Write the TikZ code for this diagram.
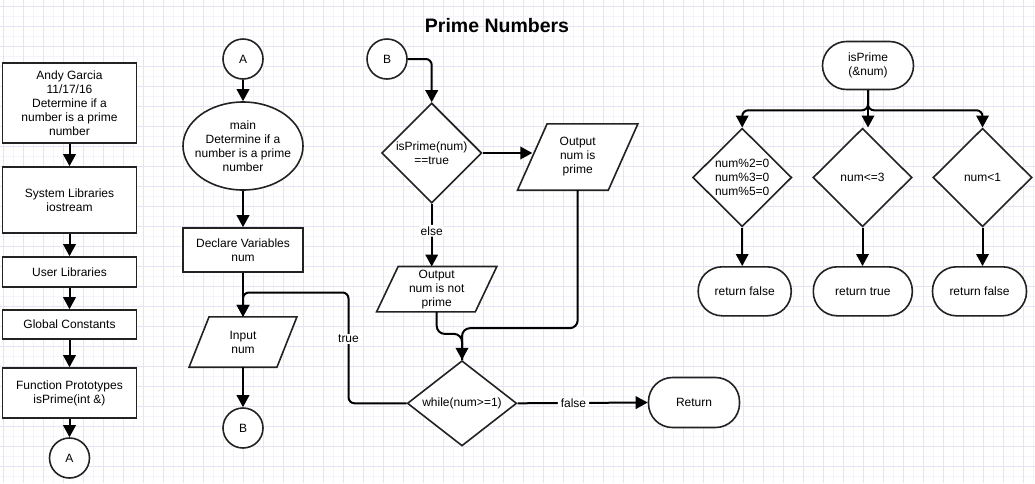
\documentclass[tikz,border=0pt]{standalone}
\usepackage{fontspec}
\setmainfont{Liberation Sans}
\usetikzlibrary{arrows.meta,shapes.geometric}

\definecolor{gridlight}{RGB}{245,244,252}
\definecolor{griddark}{RGB}{230,227,247}
\definecolor{ink}{RGB}{34,34,34}

\pgfdeclarelayer{grid}
\pgfdeclarelayer{back}
\pgfsetlayers{grid,back,main}

% parallelogram (input/output) drawn around a named rectangular node
\newcommand\slantbox[2]{%
  \begin{pgfonlayer}{back}
    \draw[shapeline, fill=white]
      ([xshift=#2pt]#1.north west) -- ([xshift=#2pt]#1.north east)
      -- ([xshift=-#2pt]#1.south east) -- ([xshift=-#2pt]#1.south west) -- cycle;
  \end{pgfonlayer}}

\begin{document}
\begin{tikzpicture}[x=1pt,y=-1pt,
  every node/.style={font=\fontsize{12}{14}\selectfont, text=black},
  shapeline/.style={draw=ink, line width=1.6pt},
  box/.style={shapeline, rectangle, fill=white, align=center, inner sep=2pt},
  term/.style={shapeline, rectangle, rounded corners=24pt, fill=white, align=center, inner sep=0pt},
  conn/.style={shapeline, circle, fill=white, minimum size=40pt, inner sep=0pt},
  dia/.style={shapeline, diamond, fill=white, inner sep=0pt},
  io/.style={rectangle, align=center, inner sep=0pt},
  lab/.style={align=center, inner sep=0pt},
  flow/.style={draw=black, line width=2pt, rounded corners=6pt},
  arr/.style={flow, -{Triangle[length=12pt,width=12.5pt]}},
  elab/.style={fill=white, inner xsep=3pt, inner ysep=1.5pt},
]
\useasboundingbox (0,0) rectangle (1035,483);

% squared paper
\begin{pgfonlayer}{grid}
  \fill[white] (0,0) rectangle (1035,483);
  \foreach \k in {0,...,51} {
    \draw[gridlight, line width=1pt] ({13.3+20*\k},0) -- ({13.3+20*\k},483);
  }
  \foreach \k in {0,...,23} {
    \draw[gridlight, line width=1pt] (0,{16.7+20*\k}) -- (1035,{16.7+20*\k});
  }
  \foreach \k in {0,...,51} {
    \draw[griddark, line width=1pt] ({3.3+20*\k},0) -- ({3.3+20*\k},483);
  }
  \foreach \k in {0,...,23} {
    \draw[griddark, line width=1pt] (0,{6.7+20*\k}) -- (1035,{6.7+20*\k});
  }
\end{pgfonlayer}

% title
\node[font=\bfseries\fontsize{19.5}{22}\selectfont] (title) at (497,26) {Prime Numbers};

% program header column
\node[box, minimum width=134pt, minimum height=80pt] (b1) at (69.5,103)
  {Andy Garcia\\11/17/16\\Determine if a\\number is a prime\\number};
\node[box, minimum width=134pt, minimum height=66pt] (b2) at (69.5,200)
  {System Libraries\\iostream};
\node[box, minimum width=134pt, minimum height=30pt] (b3) at (69.5,272)
  {User Libraries};
\node[box, minimum width=134pt, minimum height=29pt] (b4) at (69.5,324.5)
  {Global Constants};
\node[box, minimum width=134pt, minimum height=50pt] (b5) at (69.5,393)
  {Function Prototypes\\isPrime(int \&)};
\node[conn] (cA1) at (69.5,458) {A};

% main
\node[conn] (cA2) at (243,59) {A};
\node[shapeline, ellipse, fill=white, minimum width=120pt, minimum height=88pt, inner sep=0pt,
  label={[lab]center:main\\Determine if a\\number is a prime\\number}] (mainEl) at (243,146) {};
\node[box, minimum width=120pt, minimum height=44pt] (dv) at (243,250)
  {Declare Variables\\num};
\node[io, minimum width=87.5pt, minimum height=50pt] (inp) at (243,342) {Input\\num};
\slantbox{inp}{10}
\node[conn] (cB1) at (243,428) {B};

% test and loop
\node[conn] (cB2) at (387,59) {B};
\node[dia, minimum width=100pt, minimum height=100pt,
  label={[lab]center:isPrime(num)\\==true}] (dp) at (431.7,153) {};
\node[io, minimum width=90.4pt, minimum height=66pt] (opr) at (577.7,157)
  {Output\\num is\\prime};
\slantbox{opr}{14.8}
\node[io, minimum width=98.3pt, minimum height=45pt] (onp) at (436.7,289.2)
  {Output\\num is not\\prime};
\slantbox{onp}{10.8}
\node[dia, minimum width=109.4pt, minimum height=85.3pt,
  label={[lab]center:while(num>=1)}] (wh) at (462,403.3) {};
\node[term, minimum width=91pt, minimum height=50pt] (ret) at (694,402.5) {Return};

% isPrime function
\node[term, minimum width=91pt, minimum height=48pt] (ip) at (868,65.5) {isPrime\\(\&num)};
\node[dia, minimum width=99pt, minimum height=98.4pt,
  label={[lab]center:num\%2=0\\num\%3=0\\num\%5=0}] (dd1) at (742.2,177.5) {};
\node[dia, minimum width=99pt, minimum height=98.4pt,
  label={[lab]center:num<=3}] (dd2) at (862.5,177.5) {};
\node[dia, minimum width=99pt, minimum height=98.4pt,
  label={[lab]center:num<1}] (dd3) at (982.5,177.5) {};
\node[term, minimum width=93pt, minimum height=49pt] (r1) at (744.7,291.3) {return false};
\node[term, minimum width=99pt, minimum height=49pt] (r2) at (862.8,291.3) {return true};
\node[term, minimum width=94pt, minimum height=49pt] (r3) at (979.5,291.3) {return false};

% connectors: header column
\draw[arr] (b1) -- (b2);
\draw[arr] (b2) -- (b3);
\draw[arr] (b3) -- (b4);
\draw[arr] (b4) -- (b5);
\draw[arr] (b5) -- (cA1);

% connectors: main
\draw[arr] (cA2) -- (mainEl);
\draw[arr] (mainEl) -- (dv);
\draw[arr] (dv.south) -- (inp.north);
\draw[arr] (inp.south) -- (cB1.north);
\coordinate (loopc) at (348.5,292.5);
\draw[arr] (wh.west) -| (loopc) -| (inp.north);
\node[elab] (ltrue) at (348.5,339) {true};

% connectors: test and loop
\draw[arr] (cB2.east) -| (dp.north);
\draw[arr] (dp.east) -- (dp.east -| opr.west);
\draw[arr] (dp.south) -- node[elab, pos=0.43] (lelse) {else} (dp.south |- onp.north);
\draw[flow, rounded corners=8pt] (opr.south) -- ++(0,138) -| (wh.north);
\draw[arr, rounded corners=8pt] (onp.south) -- ++(0,22) -| (wh.north);
\draw[arr] (wh.east) -- node[elab, pos=0.43] (lfalse) {false} (ret.west);

% connectors: isPrime
\draw[arr] (ip.south) -- ++(0,20) -| (dd1.north);
\draw[arr] (ip.south) -- (ip.south |- dd2.north);
\draw[arr] (ip.south) -- ++(0,20) -| (dd3.north);
\draw[arr] (dd1.south) -- (dd1.south |- r1.north);
\draw[arr] (dd2.south) -- (dd2.south |- r2.north);
\draw[arr] (dd3.south) -- (dd3.south |- r3.north);
\end{tikzpicture}
\end{document}
